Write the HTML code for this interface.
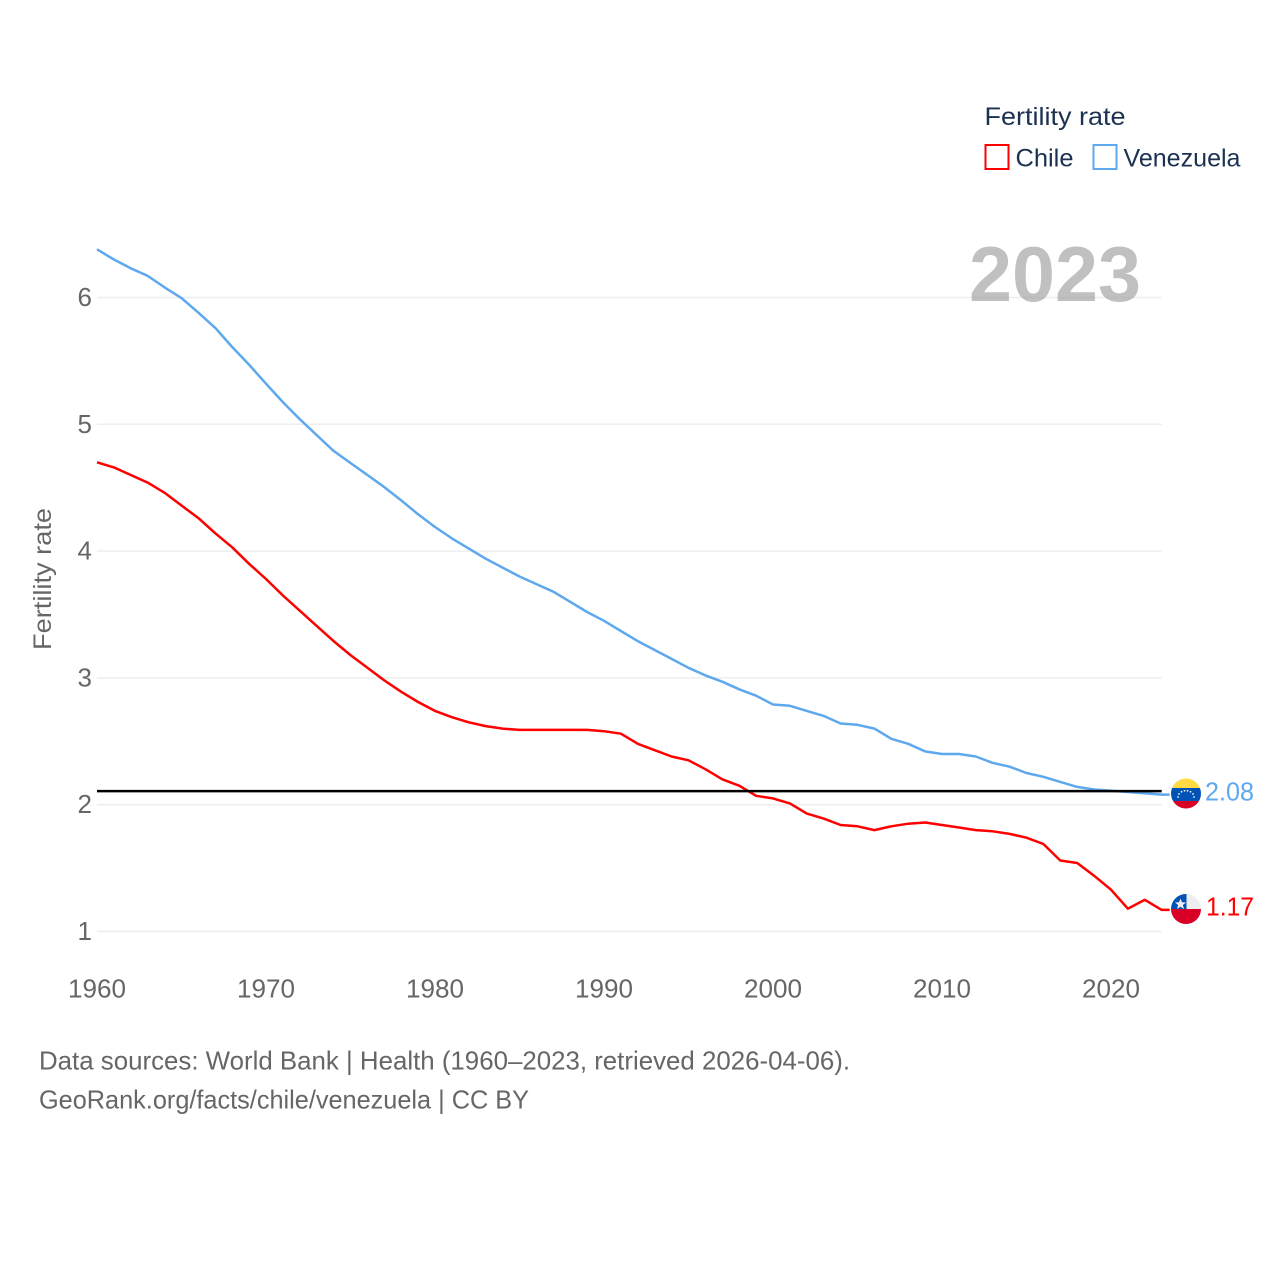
<!DOCTYPE html>
<html lang="en">
<head>
<meta charset="utf-8">
<title>Fertility rate: Chile and Venezuela</title>
<style>
html,body{margin:0;padding:0;background:#fff}
svg{display:block;font-family:"Liberation Sans",sans-serif}
</style>
</head>
<body>
<svg id="chart" xmlns="http://www.w3.org/2000/svg" width="1280" height="1280" viewBox="0 0 1280 1280">
  <rect width="1280" height="1280" fill="#fff"/>
  <g id="grid"></g>
  <text x="969" y="301" font-size="78" font-weight="700" fill="#999" fill-opacity="0.62" textLength="172" lengthAdjust="spacingAndGlyphs">2023</text>
  <g id="yticks"></g>
  <g id="xticks"></g>
  <text transform="translate(51,650) rotate(-90)" font-size="25" fill="#666" textLength="142" lengthAdjust="spacingAndGlyphs">Fertility rate</text>
  <g id="series"></g>
  <line id="reference" stroke="#000" stroke-width="2.5"/>

  <g>
    <text x="984.500" y="125" font-size="25" fill="#1a3150" textLength="141" lengthAdjust="spacingAndGlyphs">Fertility rate</text>
    <rect x="985.500" y="145" width="23" height="24" fill="none" stroke="#ff0000" stroke-width="2"/>
    <text x="1015.500" y="166.500" font-size="25" fill="#1a3150" textLength="58" lengthAdjust="spacingAndGlyphs">Chile</text>
    <rect x="1093.500" y="145" width="23" height="24" fill="none" stroke="#5ea8ee" stroke-width="2"/>
    <text x="1123.500" y="166.500" font-size="25" fill="#1a3150" textLength="117" lengthAdjust="spacingAndGlyphs">Venezuela</text>
  </g>

  <defs>
    <clipPath id="clip-ve"><circle cx="1186" cy="793.500" r="15"/></clipPath>
    <clipPath id="clip-cl"><circle cx="1186" cy="909" r="15"/></clipPath>
  </defs>

  <g clip-path="url(#clip-ve)">
    <rect x="1170" y="778" width="32" height="10" fill="#ffda44"/>
    <rect x="1170" y="788" width="32" height="13" fill="#0052b4"/>
    <rect x="1170" y="801" width="32" height="9" fill="#d80027"/>
    <g fill="#eee">
      <circle cx="1178" cy="797" r="0.900"/><circle cx="1179" cy="794" r="0.900"/><circle cx="1181.500" cy="791.800" r="0.900"/>
      <circle cx="1184.500" cy="790.800" r="0.900"/><circle cx="1187.500" cy="790.800" r="0.900"/><circle cx="1190.500" cy="791.800" r="0.900"/>
      <circle cx="1193" cy="794" r="0.900"/><circle cx="1194" cy="797" r="0.900"/>
    </g>
  </g>
  <g clip-path="url(#clip-cl)">
    <rect x="1170" y="893" width="32" height="17" fill="#eeeeee"/>
    <rect x="1170" y="893" width="16.500" height="16" fill="#0052b4"/>
    <rect x="1170" y="909" width="32" height="17" fill="#d80027"/>
    <polygon fill="#eee" points="1180.500,898.500 1182,902.300 1186,902.500 1182.900,905 1184,909 1180.500,906.700 1177,909 1178.100,905 1175,902.500 1179,902.300"/>
  </g>

  <text x="1205" y="800.500" font-size="26" fill="#5ea8ee" textLength="49" lengthAdjust="spacingAndGlyphs">2.08</text>
  <text x="1206" y="915.500" font-size="26" fill="#ff0000" textLength="48" lengthAdjust="spacingAndGlyphs">1.17</text>

  <text x="39" y="1069.500" font-size="26" fill="#666" textLength="811" lengthAdjust="spacingAndGlyphs">Data sources: World Bank | Health (1960–2023, retrieved 2026-04-06).</text>
  <text x="39" y="1108.500" font-size="26" fill="#666" textLength="490" lengthAdjust="spacingAndGlyphs">GeoRank.org/facts/chile/venezuela | CC BY</text>
</svg>
<script>
var years = [];
for (var yr = 1960; yr <= 2023; yr++) { years.push(yr); }
var chileValues = [4.70,4.66,4.60,4.54,4.46,4.36,4.26,4.14,4.03,3.90,3.78,3.65,3.53,3.41,3.29,3.18,3.08,2.98,2.89,2.81,2.74,2.69,2.65,2.62,2.60,2.59,2.59,2.59,2.59,2.59,2.58,2.56,2.48,2.43,2.38,2.35,2.28,2.20,2.15,2.07,2.05,2.01,1.93,1.89,1.84,1.83,1.80,1.83,1.85,1.86,1.84,1.82,1.80,1.79,1.77,1.74,1.69,1.56,1.54,1.44,1.33,1.18,1.25,1.17];
var venezuelaValues = [6.38,6.30,6.23,6.17,6.08,5.995,5.88,5.76,5.61,5.47,5.32,5.175,5.04,4.915,4.79,4.695,4.60,4.505,4.40,4.29,4.19,4.10,4.02,3.94,3.87,3.80,3.74,3.68,3.60,3.52,3.45,3.37,3.29,3.22,3.15,3.08,3.02,2.97,2.91,2.86,2.79,2.78,2.74,2.70,2.64,2.63,2.60,2.52,2.48,2.42,2.40,2.40,2.38,2.33,2.30,2.25,2.22,2.18,2.14,2.12,2.11,2.10,2.09,2.08];
var yTickValues = [1,2,3,4,5,6];
var xTickValues = [1960,1970,1980,1990,2000,2010,2020];
var referenceValue = 2.107;

var NS = 'http://www.w3.org/2000/svg';
function xScale(v) { return 97 + (v - 1960) * 16.9; }
function yScale(v) { return 931.5 - (v - 1) * 126.8; }

var grid = document.getElementById('grid');
var yticks = document.getElementById('yticks');
var xticks = document.getElementById('xticks');
var series = document.getElementById('series');

yTickValues.forEach(function (v) {
  var line = document.createElementNS(NS, 'line');
  
  
  line.setAttribute('x1', xScale(1960));
  line.setAttribute('x2', xScale(2023));
  line.setAttribute('y1', yScale(v));
  line.setAttribute('y2', yScale(v));
  line.setAttribute('stroke', '#eeeeee');
  line.setAttribute('stroke-width', '1.5');
  grid.appendChild(line);

  var label = document.createElementNS(NS, 'text');
  
  
  label.setAttribute('x', 92);
  label.setAttribute('y', yScale(v) + 8.5);
  label.setAttribute('text-anchor', 'end');
  label.setAttribute('font-size', '26');
  label.setAttribute('fill', '#666');
  label.textContent = v;
  yticks.appendChild(label);
});

xTickValues.forEach(function (v) {
  var label = document.createElementNS(NS, 'text');
  
  
  label.setAttribute('x', xScale(v));
  label.setAttribute('y', 997.5);
  label.setAttribute('text-anchor', 'middle');
  label.setAttribute('font-size', '26');
  label.setAttribute('fill', '#666');
  label.setAttribute('textLength', '58');
  label.setAttribute('lengthAdjust', 'spacingAndGlyphs');
  label.textContent = v;
  xticks.appendChild(label);
});

function drawSeries(values, color, name) {
  var pts = values.map(function (v, i) {
    return xScale(years[i]).toFixed(1) + ',' + yScale(v).toFixed(1);
  });
  var last = values[values.length - 1];
  pts.push((xScale(years[years.length - 1]) + 8).toFixed(1) + ',' + yScale(last).toFixed(1));
  var line = document.createElementNS(NS, 'polyline');
  
  
  line.setAttribute('points', pts.join(' '));
  line.setAttribute('fill', 'none');
  line.setAttribute('stroke', color);
  line.setAttribute('stroke-width', '2.5');
  line.setAttribute('stroke-linejoin', 'round');
  series.appendChild(line);
}
drawSeries(venezuelaValues, '#5ea8ee', 'series-line-venezuela');
drawSeries(chileValues, '#ff0000', 'series-line-chile');

var ref = document.getElementById('reference');
ref.setAttribute('x1', xScale(1960));
ref.setAttribute('x2', xScale(2023));
ref.setAttribute('y1', yScale(referenceValue));
ref.setAttribute('y2', yScale(referenceValue));
</script>
</body>
</html>
